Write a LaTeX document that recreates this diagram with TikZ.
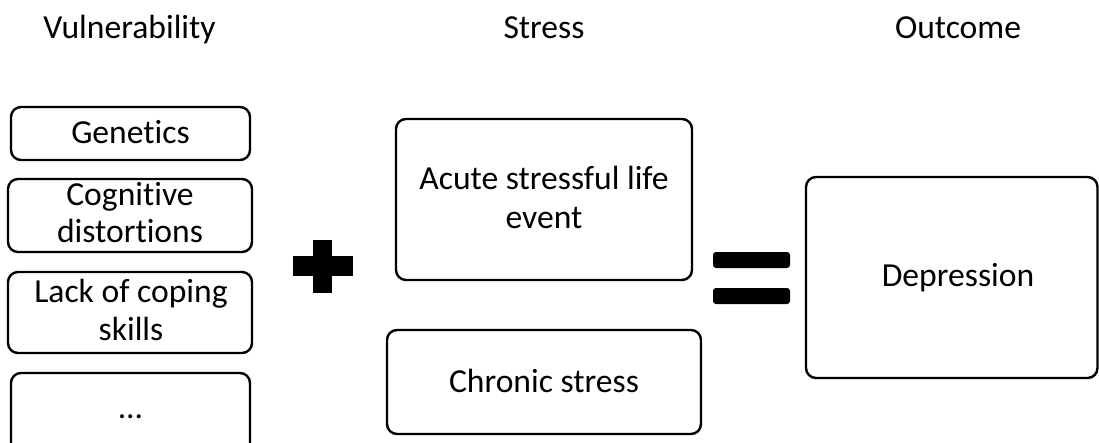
\documentclass[tikz,border=0pt]{standalone}
\usepackage{fontspec}
\setmainfont{Carlito}[Ligatures=NoCommon]
\begin{document}
\begin{tikzpicture}[x=1pt,y=-1pt,
  box/.style={draw=black,line width=2.4pt,rounded corners=10pt,fill=white},
  lbl/.style={font=\fontsize{33.6}{37.5}\selectfont,align=center,text=black,anchor=base,inner sep=0pt},
  wide/.style={font=\fontsize{33.6}{38.5}\selectfont},
  ttl/.style={font=\fontsize{33.6}{37.5}\selectfont,text=black,anchor=base,inner sep=0pt}]
\useasboundingbox[fill=white] (0,0) rectangle (1099,442);
% titles
\node[ttl] (tv) at (129.5,38) {Vulnerability};
\node[ttl] (ts) at (544,38) {Stress};
\node[ttl] (to) at (958,38) {Outcome};
% vulnerability boxes
\draw[box] (11,107) rectangle (250,160);
\node[lbl] (gen) at (130.5,143) {Genetics};
\draw[box] (8,179) rectangle (252,252);
\node[lbl] (cog) at (130,242.5) {Cognitive\\distortions};
\draw[box] (8,272) rectangle (252,353);
\node[lbl] (lack) at (131,340) {Lack of coping\\skills};
\begin{scope}
\clip (0,0) rectangle (1099,442);
\draw[box] (11,373) rectangle (250,470);
\end{scope}
\node[lbl] (dots) at (130.5,418) {...};
% plus
\fill[black] (313,240) rectangle (332,293);
\fill[black] (293,256) rectangle (353,276);
% stress boxes
\draw[box] (396,119) rectangle (692,280);
\node[lbl,wide] (acute) at (544,228) {Acute stressful life\\event};
\draw[box] (387,330) rectangle (701,434);
\node[lbl] (chron) at (544,392) {Chronic stress};
% equals
\fill[black,rounded corners=3pt] (713,252) rectangle (790,268);
\fill[black,rounded corners=3pt] (713,288) rectangle (790,304);
% outcome
\draw[box] (806,177) rectangle (1097.5,378);
\node[lbl] (dep) at (958,286) {Depression};
\end{tikzpicture}
\end{document}
